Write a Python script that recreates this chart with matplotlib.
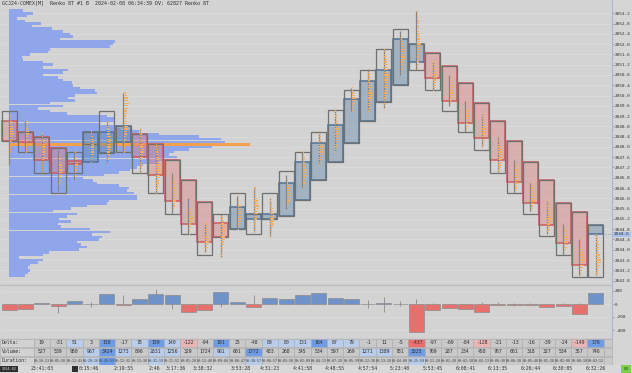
"""Renko footprint chart with volume profile, delta histogram and stats table"""

import numpy as np
import matplotlib
matplotlib.use("Agg")
import matplotlib.pyplot as plt
from matplotlib.patches import Rectangle

# ---- data -------------------------------------------------------------------
title = "GCJ24-COMEX[M]  Renko 8T #1 B  2024-02-08 06:34:39 DV: 62827 Renko 8T"

# renko bricks (price), one entry per brick
is_up = [0, 0, 0, 0, 0, 1, 1, 1, 0, 0, 0, 0, 0, 0, 1, 1, 1, 1, 1, 1, 1,
         1, 1, 1, 1, 1, 0, 0, 0, 0, 0, 0, 0, 0, 0, 0, 1]
body_lo = [2048.25, 2048.2, 2047.5, 2047.0, 2047.35, 2047.4, 2047.75, 2048.2,
           2047.6, 2046.9, 2045.9, 2045.0, 2044.3, 2044.5, 2044.8, 2045.2,
           2045.2, 2045.3, 2045.95, 2046.7, 2047.4, 2048.15, 2049.0, 2049.75,
           2050.4, 2051.3, 2050.7, 2049.8, 2048.95, 2048.35, 2047.5, 2046.65,
           2045.8, 2044.95, 2044.25, 2043.4, 2044.6]
body_hi = [2049.0, 2048.6, 2048.4, 2047.95, 2047.45, 2048.6, 2048.6, 2048.8,
           2048.5, 2048.1, 2047.5, 2046.7, 2045.85, 2045.05, 2045.65, 2045.4,
           2045.4, 2046.6, 2047.4, 2048.15, 2048.85, 2049.85, 2050.55, 2051.0,
           2052.2, 2052.0, 2051.65, 2051.15, 2050.5, 2049.7, 2049.0, 2048.25,
           2047.4, 2046.7, 2045.8, 2045.45, 2044.95]
range_lo = [2048.25, 2047.8, 2047.0, 2046.2, 2047.0, 2048.1, 2047.75, 2047.8,
            2047.0, 2046.2, 2045.4, 2044.6, 2043.8, 2044.5, 2044.8, 2044.6,
            2045.2, 2045.3, 2045.95, 2046.7, 2047.4, 2048.15, 2049.0, 2049.75,
            2050.4, 2051.0, 2050.2, 2049.4, 2048.6, 2047.9, 2047.0, 2046.2,
            2045.4, 2044.55, 2043.8, 2042.95, 2042.95]
range_hi = [2049.4, 2048.6, 2048.4, 2047.95, 2047.8, 2048.6, 2049.4, 2048.8,
            2048.5, 2048.1, 2047.5, 2046.7, 2045.85, 2045.4, 2046.2, 2045.4,
            2046.2, 2047.05, 2047.8, 2048.6, 2049.45, 2050.2, 2051.0, 2051.8,
            2052.6, 2052.0, 2051.65, 2051.15, 2050.5, 2049.7, 2049.0, 2048.25,
            2047.4, 2046.7, 2045.8, 2045.45, 2044.95]

# footprint: top price of each brick's footprint and volume per 0.1 row
fp_top = [2049.4, 2049.0, 2048.5, 2047.9, 2047.8, 2048.6, 2049.0, 2050.1,
          2048.7, 2048.1, 2047.0, 2046.0, 2045.0, 2045.4, 2046.1, 2046.4,
          2046.0, 2046.9, 2047.8, 2048.6, 2049.4, 2050.3, 2051.0, 2051.8,
          2052.5, 2053.3, 2051.3, 2050.8, 2049.8, 2049.3, 2048.4, 2047.5,
          2046.6, 2045.9, 2045.0, 2044.4, 2044.6]
fp_rows = ["1122334455443322211111", "2233442211111", "1122334433221111",
           "11223344554332211", "223344332211", "1122334433211",
           "112233445544332211", "345565544334455443322111",
           "112233445544332211", "11223344556655443211", "11223344554433211",
           "112233455433211", "223344554321", "122334455443322111",
           "11224455544321", "223345566554433221", "1122334455432211",
           "11224456654321", "112233445543321", "11224455654321",
           "11223344554433211", "1234554321", "11223445566543321",
           "112233445566554433221111", "112233455665443321",
           "111122233344455544332211", "223445543321", "1223455543321",
           "1223455543321", "11234556543321", "112234556543321",
           "11234556543321", "123455654321", "11234556543321",
           "1234556654321", "112345566554321", "11223344556654321"]

# session volume profile, from 2053.3 downward in 0.1 steps
profile_top = 2053.3
profile_vol = [14, 24, 18, 8, 16, 32, 23, 43, 54, 61, 64, 51, 106, 104, 101,
               41, 39, 21, 13, 14, 34, 44, 34, 59, 54, 34, 49, 54, 63, 64, 71,
               86, 88, 66, 59, 66, 41, 54, 29, 41, 58, 98, 106, 106, 91, 108,
               112, 130, 150, 190, 212, 216, 241, 203, 180, 165, 160, 168, 168,
               150, 134, 128, 121, 110, 95, 74, 84, 88, 110, 120, 118, 125, 128,
               128, 100, 98, 78, 62, 44, 68, 58, 50, 62, 49, 52, 81, 101, 83,
               93, 90, 68, 72, 78, 70, 40, 34, 10, 34, 29, 21, 19, 21, 19, 16]

# bar delta per brick, with intrabar extremes
delta = [-92, -72, 19, -31, 51, 3, 158, -17, 78, 159, 140, -122, -94, 191, 25,
         -48, 89, 80, 131, 164, 87, 79, -1, 11, -5, -437, -97, -69, -84, -128,
         -21, -13, -16, -39, -24, -149, 176]
delta_hi = [0, 0, 19, 0, 51, 36, 158, 138, 78, 225, 140, 0, 0, 191, 25, 138,
            89, 80, 131, 164, 87, 79, 60, 113, 40, 72, 20, 0, 0, 30, 30, 20,
            10, 0, 20, 10, 176]
delta_lo = [-92, -72, 0, -133, 0, -41, 0, -17, 0, 0, -82, -122, -94, -41, 0,
            -48, 0, 0, 0, 0, 0, 0, -60, -118, -30, -437, -97, -69, -84, -128,
            -21, -30, -16, -39, -24, -149, 0]

# stats table (first visible column is brick 2)
table_first = 2
volume = [527, 539, 980, 967, 3424, 1273, 896, 2831, 1256, 329, 1724, 961, 601,
          1772, 483, 268, 345, 534, 597, 269, 1271, 1389, 781, 3825, 769, 287,
          234, 458, 767, 661, 318, 327, 534, 357, 746]
volume_hl = [0, 0, 0, 1, 2, 1, 0, 1, 1, 0, 0, 1, 0, 2, 0, 0, 0, 0, 0, 0, 1, 1,
             0, 2, 0, 0, 0, 0, 0, 0, 0, 0, 0, 0, 0]
duration = ["00:16:13", "00:05:20", "00:12:43", "00:28:16", "01:35:53",
            "00:12:32", "00:13:38", "00:31:19", "00:11:52", "00:01:28",
            "00:12:48", "00:09:04", "00:06:47", "00:38:57", "00:06:57",
            "00:03:58", "00:02:09", "00:04:13", "00:07:28", "00:05:39",
            "00:12:38", "00:13:28", "00:04:08", "00:25:59", "00:11:28",
            "00:02:28", "00:02:18", "00:02:13", "00:06:38", "00:06:28",
            "00:05:48", "00:01:28", "00:02:08", "00:00:18", "00:02:12"]
duration_hl = [0, 0, 0, 1, 2, 0, 0, 1, 0, 0, 0, 0, 0, 1, 0, 0, 0, 0, 0, 0, 0,
               0, 0, 1, 0, 0, 0, 0, 0, 0, 0, 0, 0, 0, 0]

# time axis labels at brick positions
time_brick = [2, 4.85, 7, 8.9, 10.2, 11.9, 14.2, 16, 18, 20, 22, 24, 26, 28,
              30, 32, 34, 36]
time_text = ["23:41:03", "0:15:46", "2:19:55", "2:46", "3:17:36", "3:38:32",
             "3:53:28", "4:31:23", "4:41:58", "4:48:55", "4:57:54", "5:23:40",
             "5:53:45", "6:08:41", "6:13:35", "6:26:44", "6:30:05", "6:32:26"]
last_price = 2044.6

# ---- layout -----------------------------------------------------------------
W, H = 632, 373
STEP, X_OFF = 16.29, 9.2          # pixels per brick, centre of brick 0
BW = 15 / STEP                    # brick width in brick units
MONO = "DejaVu Sans Mono"
BG = "#d3d3d3"
AXIS_FS = 3.2

fig = plt.figure(figsize=(W / 100, H / 100), dpi=100)
fig.patch.set_facecolor("#d5d5d5")


def px_axes(x0, y0, x1, y1):
    return fig.add_axes([x0 / W, 1 - y1 / H, (x1 - x0) / W, (y1 - y0) / H])


def px_to_x(px):
    return (px - X_OFF) / STEP


xlim = (px_to_x(0), px_to_x(612))
n = len(delta)
idx = np.arange(n)

# ---- price panel ------------------------------------------------------------
ax = px_axes(0, 0, 612, 285)
ax.set_facecolor(BG)
ax.set_xlim(*xlim)
ax.set_ylim(2053.2 - 271.7 / 25.7, 2053.2 + 13.3 / 25.7)
for side in ("top", "left", "bottom"):
    ax.spines[side].set_visible(False)
ax.spines["right"].set_color("#a6b6d6")
ax.set_xticks([])
ax.yaxis.tick_right()
yt = np.round(np.arange(2042.8, 2053.3, 0.4), 1)
ax.set_yticks(yt)
ax.set_yticklabels([f"{v:.1f}" for v in yt], family=MONO)
ax.tick_params(axis="y", labelsize=AXIS_FS, length=1.5, width=0.4, pad=0.6,
               colors="#777777", labelcolor="#333333")
for v in yt:
    ax.axhline(v, color="#dcdcdc", lw=0.5, zorder=0)

# volume profile
prof = np.array(profile_vol, dtype=float)
prof_price = profile_top - 0.1 * np.arange(len(prof))
prof_col = ["#8fa7ea"] * len(prof)
poc = int(np.argmax(prof))
prof_col[poc] = "#f2a04c"
ax.barh(prof_price, prof / STEP, left=px_to_x(9), height=0.097,
        color=prof_col, lw=0, zorder=1)

# bricks
for i in range(n):
    up = is_up[i]
    face = "#5b82a8" if up else "#e07a7a"
    edge = "#4f7396" if up else "#d05a5a"
    ax.add_patch(Rectangle((i - BW / 2, body_lo[i]), BW,
                           body_hi[i] - body_lo[i], facecolor=face, alpha=0.4,
                           lw=0, zorder=2))
    ax.add_patch(Rectangle((i - BW / 2, body_lo[i]), BW,
                           body_hi[i] - body_lo[i], fill=False, edgecolor=edge,
                           lw=1.1, zorder=3))
    ax.add_patch(Rectangle((i - BW / 2, range_lo[i]), BW,
                           range_hi[i] - range_lo[i], fill=False,
                           edgecolor="#707070", lw=0.9, zorder=3))
    rows = [int(c) for c in fp_rows[i]]
    ys = fp_top[i] - 0.1 * np.arange(len(rows))
    ax.vlines(i, ys[-1], ys[0], color="#858585", lw=0.9, zorder=4)
    ax.barh(ys, 0.8 * np.array(rows) / STEP, left=i + 0.03, height=0.05,
            color="#f4ab5c", lw=0, zorder=5)

ax.plot([n - 1 + BW / 2, xlim[1]], [last_price, last_price], ls=":",
        color="#8494a8", lw=0.6, zorder=4)
ax.annotate(f"{last_price:.1f}", xy=(1.0, last_price),
            xycoords=("axes fraction", "data"), xytext=(1.5, 0),
            textcoords="offset points", va="center", ha="left",
            fontsize=AXIS_FS, family=MONO, color="#333333",
            annotation_clip=False,
            bbox=dict(boxstyle="square,pad=0.15", fc="#a9c1ea", ec="none"))

fig.text(2 / W, 1 - 3 / H, title, fontsize=3.6, family=MONO, va="center",
         color="#333333")

# ---- delta panel ------------------------------------------------------------
dax = px_axes(0, 285, 612, 338)
dax.set_facecolor(BG)
dax.set_xlim(*xlim)
dax.set_ylim(-(338 - 304) * 200 / 13, (304 - 285) * 200 / 13)
for side in ("left", "bottom"):
    dax.spines[side].set_visible(False)
dax.spines["top"].set_color("#bcbcbc")
dax.spines["right"].set_color("#a6b6d6")
dax.set_xticks([])
dax.yaxis.tick_right()
dax.set_yticks([200, 0, -200, -400])
dax.set_yticklabels(["200", "0", "-200", "-400"], family=MONO)
dax.tick_params(axis="y", labelsize=AXIS_FS, length=1.5, width=0.4, pad=0.6,
                colors="#777777", labelcolor="#333333")
for v in (200, 0, -200, -400):
    dax.axhline(v, color="#dcdcdc", lw=0.5, zorder=0)
dcol = ["#6f93c9" if d >= 0 else "#e8706c" for d in delta]
dax.vlines(idx, delta_lo, delta_hi, color="#8a8a8a", lw=0.6, zorder=1)
dax.bar(idx, delta, width=BW, color=dcol, edgecolor="#8c8c8c", lw=0.5,
        zorder=2)

# ---- stats table ------------------------------------------------------------
tax = px_axes(0, 338, 632, 365)
tax.set_xlim(0, W)
tax.set_ylim(27, 0)
tax.axis("off")
tax.add_patch(Rectangle((0, 0), 612, 27, fc="#cdcdcd", ec="none"))

blue = {0: "#c9c9c9", 1: "#b9cdea", 2: "#6e9ce6"}


def delta_color(d):
    if d >= 150:
        return "#6e9ce6"
    if d >= 50:
        return "#b9cdea"
    if d <= -150:
        return "#ec6f6f"
    if d <= -100:
        return "#e9b4b4"
    return "#c9c9c9"


def cell(x0, w, r, fc, txt, fs=3.5):
    rect = Rectangle((x0, r * 9 + 0.6), w, 8.2, fc=fc, ec="#ababab", lw=0.4)
    tax.add_patch(rect)
    if txt:
        t = tax.text(x0 + w / 2, r * 9 + 4.8, txt, ha="center", va="center",
                     fontsize=fs, family=MONO, color="#333333")
        t.set_clip_path(rect)


for r, lab in enumerate(["Delta:", "Volume:", "Duration:"]):
    cell(0, X_OFF + STEP * table_first - STEP / 2, r, "#d2d2d2", "")
    tax.text(2, r * 9 + 4.8, lab, ha="left", va="center", fontsize=3.5,
             family=MONO, color="#333333")

for j in range(len(volume)):
    i = j + table_first
    x0 = X_OFF + STEP * i - STEP / 2
    cell(x0, STEP, 0, delta_color(delta[i]), str(delta[i]))
    cell(x0, STEP, 1, blue[volume_hl[j]], str(volume[j]))
    cell(x0, STEP, 2, blue[duration_hl[j]], duration[j], fs=2.35)
x_end = X_OFF + STEP * (n - 1) + STEP / 2
for r in range(3):
    cell(x_end, 612 - x_end, r, "#c9c9c9", "")

# ---- time axis --------------------------------------------------------------
tmx = px_axes(0, 365, 632, 373)
tmx.set_xlim(0, W)
tmx.set_ylim(0, 1)
tmx.axis("off")
tmx.add_patch(Rectangle((0, 0), W, 1, fc="#d8d8d8", ec="none"))
for b, txt in zip(time_brick, time_text):
    tmx.text(X_OFF + STEP * b, 0.5, txt, ha="center", va="center",
             fontsize=3.5, family=MONO, color="#333333")
tmx.add_patch(Rectangle((0, 0.1), 18, 0.8, fc="#2f2f2f", ec="none"))
tmx.text(9, 0.5, "2024-02", ha="center", va="center", fontsize=2.6,
         family=MONO, color="#dddddd")
tmx.add_patch(Rectangle((72, 0.15), 5.5, 0.7, fc="#2f2f2f", ec="none"))
tmx.add_patch(Rectangle((621, 0.05), 10, 0.9, fc="#7ccf4a", ec="none"))
tmx.text(626, 0.5, "03", ha="center", va="center", fontsize=3.0,
         family=MONO, color="#1d4d10")

fig.savefig("out.png", dpi=100, facecolor=fig.get_facecolor())
